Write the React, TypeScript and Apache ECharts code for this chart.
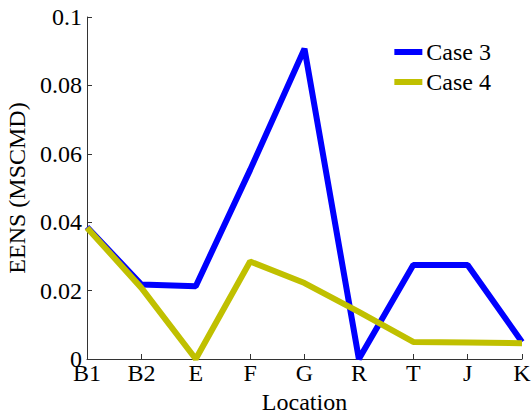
import React, { useEffect, useRef } from "react";
import * as echarts from "echarts";

const categories = ["B1", "B2", "E", "F", "G", "R", "T", "J", "K"];
const case3 = [0.0386, 0.0218, 0.0213, 0.0553, 0.0907, 0, 0.0275, 0.0275, 0.005];
const case4 = [0.0384, 0.0208, 0, 0.0285, 0.0222, 0.0138, 0.005, 0.0048, 0.0046];
const yTicks = [0, 0.02, 0.04, 0.06, 0.08, 0.1];

const FONT = "Liberation Serif, Times New Roman, serif";
const FS = 24;

export default function App() {
  const ref = useRef<HTMLDivElement>(null);
  useEffect(() => {
    if (!ref.current) return;
    const chart = echarts.init(ref.current, undefined, { renderer: "svg" });
    chart.setOption({
      animation: false,
      backgroundColor: "#fff",
      textStyle: { fontFamily: FONT },
      grid: { left: 87, right: 9, top: 17, bottom: 55, containLabel: false, outerBoundsMode: "none" },
      legend: {
        right: 35,
        top: 35,
        orient: "vertical",
        itemWidth: 28,
        itemHeight: 6,
        itemGap: 6,
        icon: "rect",
        textStyle: { fontFamily: FONT, fontSize: FS, color: "#000", padding: [0, 0, 0, -1] },
        data: ["Case 3", "Case 4"],
      },
      xAxis: {
        type: "category",
        data: categories,
        boundaryGap: false,
        name: "Location",
        nameLocation: "middle",
        nameGap: 29,
        nameTextStyle: { fontFamily: FONT, fontSize: FS, color: "#000" },
        axisLine: { lineStyle: { color: "#333", width: 1 } },
        axisTick: { inside: true, length: 5, lineStyle: { color: "#333" } },
        axisLabel: { fontFamily: FONT, fontSize: FS, color: "#000", margin: 2 },
        splitLine: { show: false },
      },
      yAxis: {
        type: "value",
        min: 0,
        max: 0.1,
        interval: 0.02,
        name: "EENS (MSCMD)",
        nameLocation: "middle",
        nameGap: 54,
        nameTextStyle: { fontFamily: FONT, fontSize: FS, color: "#000" },
        axisLine: { show: true, lineStyle: { color: "#333", width: 1 } },
        axisTick: { show: true, inside: true, length: 5, lineStyle: { color: "#333" } },
        axisLabel: {
          fontFamily: FONT,
          fontSize: FS,
          color: "#000",
          margin: 5,
          formatter: (v: number) => {
            const t = yTicks.find((x) => Math.abs(x - v) < 1e-9);
            return t === undefined ? "" : String(Number(t.toFixed(2)));
          },
        },
        splitLine: { show: false },
      },
      series: [
        {
          name: "Case 3",
          type: "line",
          data: case3,
          showSymbol: false,
          lineStyle: { color: "#0000ff", width: 6 },
          itemStyle: { color: "#0000ff" },
        },
        {
          name: "Case 4",
          type: "line",
          data: case4,
          showSymbol: false,
          lineStyle: { color: "#c0c000", width: 6 },
          itemStyle: { color: "#c0c000" },
        },
      ],
    });
    return () => chart.dispose();
  }, []);
  return <div ref={ref} style={{ width: 531, height: 414, position: "absolute", left: 0, top: 0 }} />;
}
